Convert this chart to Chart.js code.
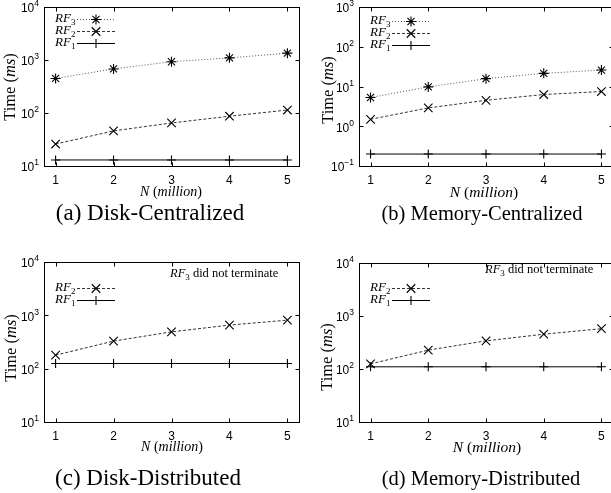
<!DOCTYPE html>
<html>
<head>
<meta charset="utf-8">
<script src="https://cdn.jsdelivr.net/npm/chart.js@4/dist/chart.umd.min.js"></script>
<style>
  html, body { margin: 0; padding: 0; background: #fff; overflow: hidden; }
  #wrap { position: relative; width: 611px; height: 493px; overflow: hidden; }
  canvas { position: absolute; }
  .txt { position: absolute; font-family: "Liberation Serif", "Times New Roman", serif; color: #000; white-space: nowrap; }
  .ytitle { transform: translate(-50%, -50%) rotate(-90deg); }
  .xtitle, .cap { transform: translate(-50%, -50%); }
</style>
</head>
<body>
<div id="wrap">
  <canvas id="c1" width="320" height="245" style="left:0;top:0"></canvas>
  <canvas id="c2" width="320" height="245" style="left:305px;top:0"></canvas>
  <canvas id="c3" width="320" height="245" style="left:0;top:245px"></canvas>
  <canvas id="c4" width="320" height="245" style="left:305px;top:245px"></canvas>

  <div class="txt ytitle" style="left:10px;top:87px;font-size:16.5px">Time (<i>ms</i>)</div>
  <div class="txt ytitle" style="left:328px;top:90px;font-size:16.5px">Time (<i>ms</i>)</div>
  <div class="txt ytitle" style="left:11px;top:348px;font-size:16.5px">Time (<i>ms</i>)</div>
  <div class="txt ytitle" style="left:327px;top:357px;font-size:16.5px">Time (<i>ms</i>)</div>

  <div class="txt xtitle" style="left:171px;top:192px;font-size:14px"><i>N</i> (<i>million</i>)</div>
  <div class="txt xtitle" style="left:484px;top:192px;font-size:15.5px"><i>N</i> (<i>million</i>)</div>
  <div class="txt xtitle" style="left:172px;top:447px;font-size:14px"><i>N</i> (<i>million</i>)</div>
  <div class="txt xtitle" style="left:487px;top:447px;font-size:15.5px"><i>N</i> (<i>million</i>)</div>

  <div class="txt cap" style="left:150px;top:213px;font-size:23px">(a) Disk-Centralized</div>
  <div class="txt cap" style="left:482px;top:213px;font-size:20.5px">(b) Memory-Centralized</div>
  <div class="txt cap" style="left:148px;top:478px;font-size:23px">(c) Disk-Distributed</div>
  <div class="txt cap" style="left:481px;top:478px;font-size:20.5px">(d) Memory-Distributed</div>
</div>

<script>
// N in millions
var nValues = [1, 2, 3, 4, 5];
var xTicks = [1, 2, 3, 4, 5];

// time in ms
var diskCentralRF3 = [450, 680, 930, 1100, 1350];
var diskCentralRF2 = [26, 46, 65, 87, 114];
var diskCentralRF1 = [13, 13, 13, 13, 13];

var memCentralRF3 = [5.3, 9.8, 15.8, 21.5, 26];
var memCentralRF2 = [1.5, 2.9, 4.5, 6.3, 7.5];
var memCentralRF1 = [0.2, 0.2, 0.2, 0.2, 0.2];

var diskDistRF2 = [179, 329, 490, 656, 813];
var diskDistRF1 = [125, 125, 125, 125, 125];

var memDistRF2 = [125, 227, 340, 453, 576];
var memDistRF1 = [110, 110, 110, 110, 110];

var yTicksDisk = [10, 100, 1000, 10000];
var yTicksMem = [0.1, 1, 10, 100, 1000];

var serieStyle = {
    RF3: { sub: '3', color: '#555', dash: [1, 2], point: 'star', radius: 5 },
    RF2: { sub: '2', color: '#333', dash: [3, 2], point: 'crossRot', radius: 6 },
    RF1: { sub: '1', color: '#000', dash: [], point: 'cross', radius: 4.5 }
};

var armarDataset = function (nombre, valores) {
    var s = serieStyle[nombre];
    return {
        label: nombre,
        sub: s.sub,
        data: nValues.map(function (n, i) { return { x: n, y: valores[i] }; }),
        borderColor: s.color,
        borderWidth: 1,
        borderDash: s.dash,
        pointStyle: s.point,
        pointRadius: s.radius,
        pointBorderColor: '#000',
        pointBackgroundColor: 'transparent',
        pointBorderWidth: 1.1,
        tension: 0,
        clip: false
    };
};

var dibujarMarca = function (ctx, estilo, radio, x, y) {
    ctx.save();
    ctx.strokeStyle = '#000';
    ctx.lineWidth = 1.1;
    ctx.setLineDash([]);
    if (Chart.helpers && Chart.helpers.drawPoint) {
        Chart.helpers.drawPoint(ctx, { pointStyle: estilo, radius: radio, borderWidth: 1.1, rotation: 0 }, x, y);
    } else {
        ctx.beginPath();
        ctx.moveTo(x - radio, y); ctx.lineTo(x + radio, y);
        ctx.moveTo(x, y - radio); ctx.lineTo(x, y + radio);
        ctx.stroke();
    }
    ctx.restore();
};

// frame, inner ticks and tick labels, gnuplot style
var marcoPlugin = {
    id: 'marco',
    beforeDatasetsDraw: function (chart) {
        var ctx = chart.ctx;
        var a = chart.chartArea;
        var xs = chart.scales.x, ys = chart.scales.y;
        var L = Math.round(a.left) + 0.5, R = Math.round(a.right) + 0.5;
        var T = Math.round(a.top) + 0.5, B = Math.round(a.bottom) + 0.5;
        ctx.save();
        ctx.strokeStyle = '#000';
        ctx.lineWidth = 1;
        ctx.strokeRect(L, T, R - L, B - T);

        ctx.beginPath();
        xTicks.forEach(function (v) {
            var px = Math.round(xs.getPixelForValue(v)) + 0.5;
            ctx.moveTo(px, B); ctx.lineTo(px, B - 4);
            ctx.moveTo(px, T); ctx.lineTo(px, T + 4);
        });
        chart.options.yTicks.forEach(function (v) {
            var py = Math.round(ys.getPixelForValue(v)) + 0.5;
            ctx.moveTo(L, py); ctx.lineTo(L + 4, py);
            ctx.moveTo(R, py); ctx.lineTo(R - 4, py);
        });
        ctx.stroke();

        ctx.fillStyle = '#000';
        ctx.textBaseline = 'middle';
        ctx.textAlign = 'center';
        ctx.font = '12px "Liberation Sans", Arial, sans-serif';
        xTicks.forEach(function (v) {
            ctx.fillText(String(v), xs.getPixelForValue(v), a.bottom + 15);
        });

        ctx.textAlign = 'left';
        chart.options.yTicks.forEach(function (v) {
            var py = ys.getPixelForValue(v);
            var exp = String(Math.round(Math.log10(v))).replace('-', '\u2212');
            ctx.font = '12px "Liberation Sans", Arial, sans-serif';
            var wb = ctx.measureText('10').width;
            ctx.font = '8.5px "Liberation Sans", Arial, sans-serif';
            var we = ctx.measureText(exp).width;
            var x0 = a.left - 5 - we - wb;
            ctx.font = '12px "Liberation Sans", Arial, sans-serif';
            ctx.fillText('10', x0, py + 2);
            ctx.font = '8.5px "Liberation Sans", Arial, sans-serif';
            ctx.fillText(exp, x0 + wb, py - 3);
        });
        ctx.restore();
    },
    afterDraw: function (chart) {
        var ctx = chart.ctx;
        var lg = chart.options.leyenda;
        ctx.save();
        ctx.fillStyle = '#000';
        ctx.textBaseline = 'middle';
        chart.data.datasets.forEach(function (ds, i) {
            var y = lg.y + i * lg.paso;
            ctx.font = 'italic 13px "Liberation Serif", "Times New Roman", serif';
            ctx.textAlign = 'left';
            var w = ctx.measureText('RF').width;
            ctx.fillText('RF', lg.x, y);
            ctx.font = '9px "Liberation Serif", "Times New Roman", serif';
            ctx.fillText(ds.sub, lg.x + w, y + 4);
            ctx.strokeStyle = ds.borderColor;
            ctx.lineWidth = 1;
            ctx.setLineDash(ds.borderDash);
            ctx.beginPath();
            ctx.moveTo(lg.x + 22, Math.round(y) + 0.5);
            ctx.lineTo(lg.x + 60, Math.round(y) + 0.5);
            ctx.stroke();
            dibujarMarca(ctx, ds.pointStyle, ds.pointRadius, lg.x + 41, Math.round(y) + 0.5);
        });
        if (lg.nota) {
            ctx.textAlign = 'left';
            ctx.font = 'italic 12.5px "Liberation Serif", "Times New Roman", serif';
            var w2 = ctx.measureText('RF').width;
            ctx.fillText('RF', lg.nota.x, lg.nota.y);
            ctx.font = '9px "Liberation Serif", "Times New Roman", serif';
            ctx.fillText('3', lg.nota.x + w2, lg.nota.y + 4);
            var w3 = ctx.measureText('3').width;
            ctx.font = '12.5px "Liberation Serif", "Times New Roman", serif';
            ctx.fillText(' did not terminate', lg.nota.x + w2 + w3, lg.nota.y);
        }
        ctx.restore();
    }
};

var CrearPanel = function (id, datasets, yMin, yMax, yTicks, padding, leyenda) {
    var canvas = document.getElementById(id).getContext('2d');
    return new Chart(canvas, {
        type: 'line',
        data: { datasets: datasets },
        options: {
            responsive: false,
            animation: false,
            devicePixelRatio: 1,
            layout: { padding: padding },
            yTicks: yTicks,
            leyenda: leyenda,
            plugins: { legend: { display: false }, tooltip: { enabled: false } },
            scales: {
                x: { type: 'linear', min: 0.8, max: 5.2, display: false },
                y: { type: 'logarithmic', min: yMin, max: yMax, display: false }
            }
        },
        plugins: [marcoPlugin]
    });
};

CrearPanel('c1',
    [armarDataset('RF3', diskCentralRF3), armarDataset('RF2', diskCentralRF2), armarDataset('RF1', diskCentralRF1)],
    10, 10000, yTicksDisk,
    { left: 44, top: 6, right: 21, bottom: 79 },
    { x: 55, y: 19, paso: 12 });

CrearPanel('c2',
    [armarDataset('RF3', memCentralRF3), armarDataset('RF2', memCentralRF2), armarDataset('RF1', memCentralRF1)],
    0.1, 1000, yTicksMem,
    { left: 54, top: 6, right: 12, bottom: 79 },
    { x: 65, y: 21, paso: 12 });

CrearPanel('c3',
    [armarDataset('RF2', diskDistRF2), armarDataset('RF1', diskDistRF1)],
    10, 10000, yTicksDisk,
    { left: 44, top: 17, right: 21, bottom: 68 },
    { x: 55, y: 43, paso: 12, nota: { x: 170, y: 29 } });

CrearPanel('c4',
    [armarDataset('RF2', memDistRF2), armarDataset('RF1', memDistRF1)],
    10, 10000, yTicksDisk,
    { left: 54, top: 18, right: 12, bottom: 68 },
    { x: 65, y: 43, paso: 12, nota: { x: 180, y: 25 } });
</script>
</body>
</html>
